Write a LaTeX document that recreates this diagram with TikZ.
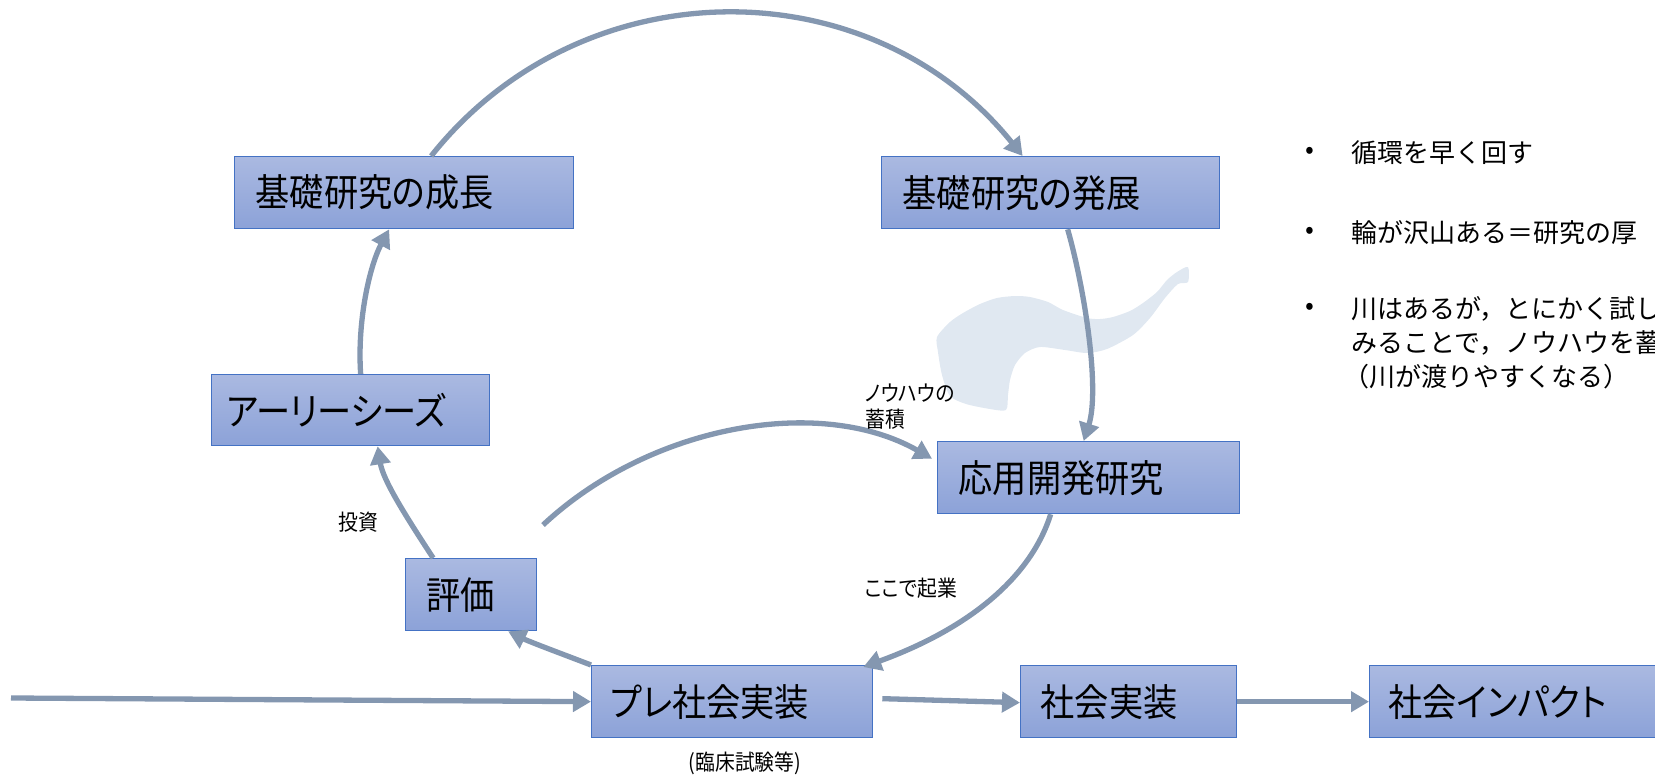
\documentclass[tikz,border=0pt]{standalone}
\usepackage{fontspec}
\setmainfont{Noto Sans CJK JP}
\newfontfamily\jpprop{Noto Sans CJK JP}[RawFeature=+palt, FakeStretch=0.9]
\usetikzlibrary{arrows.meta,calc}

\definecolor{conncol}{RGB}{132,151,176}
\definecolor{boxtop}{RGB}{170,185,225}
\definecolor{boxbot}{RGB}{140,162,216}
\definecolor{boxline}{RGB}{68,114,196}
\definecolor{rivercol}{RGB}{224,232,241}

\begin{document}
\begin{tikzpicture}[x=1pt,y=-1pt,
  box/.style={draw=boxline, line width=1.3pt, top color=boxtop, bottom color=boxbot,
    anchor=north west, minimum height=72pt, inner ysep=0pt, align=left,
    font=\jpprop\fontsize{38}{42}\selectfont},
  conn/.style={draw=conncol, line width=5.3pt, -{Triangle[length=18pt,width=20pt]}},
  lbl/.style={font=\jpprop\fontsize{22}{26}\selectfont, inner sep=0pt, align=left},
  note/.style={font=\fontsize{26}{30}\selectfont, inner sep=0pt, anchor=west},
]
\useasboundingbox (0,0) rectangle (1655,776);
\clip (0,0) rectangle (1655,776);

% river crossing the cycle
\fill[rivercol] plot[smooth cycle, tension=0.45] coordinates {
  (937,337) (950,322) (963,313) (980,304) (997,298) (1015,296) (1030,297)
  (1048,302) (1063,310) (1087,318) (1100,319) (1113,317) (1130,311)
  (1143,303) (1157,292) (1167,280) (1177,272) (1188,267) (1188,282)
  (1178,284) (1165,298) (1150,318) (1133,335) (1107,349) (1087,353)
  (1065,350) (1040,347) (1025,353) (1015,365) (1010,380) (1008,395)
  (1006,410) (990,409) (966,404) (950,396) (942,375) (938,352)};

% boxes
\node[box, inner xsep=21pt, text width=297pt] (A) at (234,156) {基礎研究の成長};
\node[box, inner xsep=21pt, text width=296pt] (B) at (881,156) {基礎研究の発展};
\node[box, inner xsep=15pt, text width=248pt, minimum height=71pt] (C) at (211,374) {アーリーシーズ};
\node[box, inner xsep=21pt, text width=260pt] (D) at (937,441) {応用開発研究};
\node[box, inner xsep=21pt, text width=89pt] (E) at (405,558) {評価};
\node[box, inner xsep=19pt, text width=243pt] (F) at (591,665) {プレ社会実装};
\node[box, inner xsep=20pt, text width=176pt] (G) at (1020,665) {社会実装};
\node[box, inner xsep=19pt, text width=290pt] (H) at (1369,665) {社会インパクト};

% cycle connectors
\draw[conn] ($(A.north)+(27,0)$) .. controls (582,-34) and (870,-34) .. ($(B.north)+(-28,0)$);
\draw[conn] ($(B.south)+(17,0)$) .. controls (1085,290) and (1100,390) .. ($(D.north)+(-5,0)$);
\draw[conn] ($(D.south)+(-38,0)$) .. controls (1030,580) and (965,630) .. ($(F.north east)+(-10,2)$);
\draw[conn] (F.north west) .. controls (565,655) and (530,642) .. ($(E.south)+(37,0)$);
\draw[conn] ($(E.north)+(-38,0)$) .. controls (405,515) and (383,480) .. ($(C.south)+(27,0)$);
\draw[conn] ($(C.north)+(10,0)$) .. controls (357,320) and (370,265) .. ($(A.south)+(-15,0)$);
\coordinate (k0) at (543,525);
\draw[conn] (k0) .. controls (650,425) and (820,395) .. ($(D.west)+(-5,-19)$);

% main line
\coordinate (in0) at (11,698);
\draw[conn] (in0) -- (F.west);
\draw[conn] ($(F.east)+(9,-3)$) -- ($(G.west)+(0,1)$);
\draw[conn] (G.east) -- (H.west);

% labels
\node[lbl, anchor=west] (know) at (865,407) {ノウハウの\\蓄積};
\node[lbl, anchor=west] (inv) at (338,522) {投資};
\node[lbl, anchor=west] (found) at (865,588) {ここで起業};
\node[lbl] (trial) at (745,763) {(臨床試験等)};

% notes
\node[note, anchor=center] (d1) at (1310,153) {•};
\node[note] (t1) at (1351,153) {循環を早く回す};
\node[note, anchor=center] (d2) at (1310,233) {•};
\node[note] (t2) at (1351,233) {輪が沢山ある＝研究の厚};
\node[note, anchor=center] (d3) at (1310,309) {•};
\node[note] (t3) at (1351,309) {川はあるが，とにかく試し};
\node[note] (t4) at (1351,343) {みることで，ノウハウを蓄};
\node[note] (t5) at (1343,377) {（川が渡りやすくなる）};
\end{tikzpicture}
\end{document}
